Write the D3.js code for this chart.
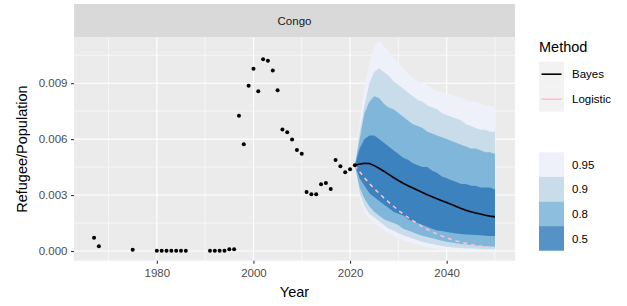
<!DOCTYPE html>
<html>
<head>
<meta charset="utf-8">
<script src="https://cdn.jsdelivr.net/npm/d3@7/dist/d3.min.js"></script>
<style>
  body { margin: 0; background: #ffffff; }
  svg text { font-family: "Liberation Sans", Arial, Helvetica, sans-serif; }
</style>
</head>
<body>
<div id="canvas"></div>
<script>
'use strict';

// Observed refugee share for Congo.
const observedYears = [
  1967, 1968, 1975, 1980, 1981, 1982, 1983, 1984, 1985, 1986,
  1991, 1992, 1993, 1994, 1995, 1996, 1997, 1998, 1999, 2000,
  2001, 2002, 2003, 2004, 2005, 2006, 2007, 2008, 2009, 2010,
  2011, 2012, 2013, 2014, 2015, 2016, 2017, 2018, 2019, 2020, 2021,
];
const observedShares = [
  0.00071, 0.00025, 0.00007, 0.00001, 0.00001, 0.00001, 0.00001, 0.00001, 0.00001, 0.00001,
  0.00001, 0.00001, 0.00001, 0.00002, 0.00009, 0.00010, 0.00725, 0.00573, 0.00886, 0.00977,
  0.00857, 0.01029, 0.01020, 0.00968, 0.00862, 0.00651, 0.00637, 0.00598, 0.00542, 0.00522,
  0.00316, 0.00305, 0.00305, 0.00358, 0.00365, 0.00333, 0.00488, 0.00454, 0.00422, 0.00438, 0.00460,
];

// Forecast horizon.
const forecastYears = [
  2021, 2022, 2023, 2024, 2025, 2026, 2027, 2028, 2029, 2030,
  2031, 2032, 2033, 2034, 2035, 2036, 2037, 2038, 2039, 2040,
  2041, 2042, 2043, 2044, 2045, 2046, 2047, 2048, 2049, 2050,
];
const bayesMedian = [
  0.00460, 0.00467, 0.00470, 0.00469, 0.00458, 0.00444, 0.00428, 0.00411, 0.00394, 0.00378,
  0.00363, 0.00350, 0.00338, 0.00326, 0.00314, 0.00302, 0.00291, 0.00280, 0.00269, 0.00260,
  0.00250, 0.00239, 0.00228, 0.00219, 0.00211, 0.00204, 0.00198, 0.00192, 0.00187, 0.00183,
];
const logisticFit = [
  0.00460, 0.00425, 0.00392, 0.00362, 0.00335, 0.00310, 0.00285, 0.00262, 0.00240, 0.00218,
  0.00198, 0.00180, 0.00163, 0.00146, 0.00130, 0.00116, 0.00103, 0.00091, 0.00080, 0.00070,
  0.00062, 0.00054, 0.00047, 0.00041, 0.00035, 0.00030, 0.00026, 0.00022, 0.00019, 0.00016,
];

// Credible interval bounds.
const upper95 = [
  0.0046, 0.0070, 0.0088, 0.0101, 0.0110, 0.0113, 0.0110, 0.0107, 0.0104, 0.0101,
  0.0098, 0.0095, 0.0093, 0.0091, 0.0090, 0.0089, 0.0087, 0.0086, 0.0085, 0.0084,
  0.0084, 0.0083, 0.0082, 0.0081, 0.0080, 0.0080, 0.0079, 0.0078, 0.0078, 0.0077,
];
const lower95 = [
  0.0046, 0.0028, 0.0021, 0.0017, 0.0015, 0.0013, 0.0011, 0.00095, 0.00080, 0.00068,
  0.00058, 0.00048, 0.00040, 0.00033, 0.00026, 0.00020, 0.00016, 0.00012, 0.00010, 0.00008,
  0.00006, 0.00005, 0.00005, 0.00004, 0.00004, 0.00003, 0.00003, 0.00003, 0.00003, 0.00003,
];
const upper90 = [
  0.0046, 0.0064, 0.0078, 0.0090, 0.0096, 0.0098, 0.0096, 0.0094, 0.0091, 0.0089,
  0.0087, 0.0085, 0.0083, 0.0081, 0.0080, 0.0078, 0.0077, 0.0076, 0.0074, 0.0073,
  0.0072, 0.0071, 0.0070, 0.0068, 0.0067, 0.0066, 0.0065, 0.0065, 0.0064, 0.0064,
];
const lower90 = [
  0.0046, 0.0031, 0.0024, 0.0020, 0.0018, 0.0016, 0.0014, 0.0012, 0.0011, 0.00095,
  0.00085, 0.00075, 0.00066, 0.00058, 0.00050, 0.00043, 0.00037, 0.00032, 0.00027, 0.00023,
  0.00020, 0.00018, 0.00016, 0.00014, 0.00013, 0.00012, 0.00011, 0.00010, 0.00010, 0.00009,
];
const upper80 = [
  0.0046, 0.0060, 0.0074, 0.0080, 0.0083, 0.0082, 0.0079, 0.0077, 0.0076, 0.0074,
  0.0072, 0.0070, 0.0068, 0.0067, 0.0066, 0.0064, 0.0063, 0.0062, 0.0061, 0.0060,
  0.0059, 0.0058, 0.0057, 0.0056, 0.0055, 0.0055, 0.0054, 0.0053, 0.0053, 0.0052,
];
const lower80 = [
  0.0046, 0.0034, 0.0028, 0.0024, 0.0021, 0.0019, 0.0017, 0.0016, 0.0015, 0.0014,
  0.0012, 0.0011, 0.00100, 0.00090, 0.00082, 0.00075, 0.00068, 0.00062, 0.00055, 0.00050,
  0.00046, 0.00042, 0.00038, 0.00035, 0.00032, 0.00029, 0.00027, 0.00025, 0.00024, 0.00023,
];
const upper50 = [
  0.0046, 0.0055, 0.0060, 0.0062, 0.0062, 0.0060, 0.0058, 0.0056, 0.0054, 0.0052,
  0.0050, 0.0049, 0.0047, 0.0046, 0.0045, 0.0045, 0.0043, 0.0042, 0.0040, 0.0039,
  0.0038, 0.0037, 0.0036, 0.0036, 0.0035, 0.0035, 0.0034, 0.0034, 0.0034, 0.0033,
];
const lower50 = [
  0.0046, 0.0039, 0.0035, 0.0031, 0.0029, 0.0027, 0.0025, 0.0023, 0.0021, 0.0020,
  0.0019, 0.0017, 0.0016, 0.0015, 0.0014, 0.0013, 0.0012, 0.0011, 0.00107, 0.00102,
  0.00098, 0.00094, 0.00091, 0.00089, 0.00087, 0.00086, 0.00084, 0.00082, 0.00081, 0.00080,
];

const bandLevels = ['0.95', '0.9', '0.8', '0.5'];
const methodLabels = ['Bayes', 'Logistic'];
const xTickValues = [1980, 2000, 2020, 2040];
const xMinorValues = [1970, 1990, 2010, 2030, 2050];
const yTickValues = [0, 0.003, 0.006, 0.009];
const yMinorValues = [0.0015, 0.0045, 0.0075, 0.0105];
const facetLabel = 'Congo';

const width = 627;
const height = 306;
const panel = {left: 74, right: 515, top: 37.5, bottom: 260.7};

const bandFill = {
  '0.95': '#eef1fa', '0.9': '#c9dcea', '0.8': '#80b6da', '0.5': '#3b82bf',
};
const bandKeyFill = {
  '0.95': '#eef1fa', '0.9': '#c9dcea', '0.8': '#8dbedd', '0.5': '#5593c6',
};

const svg = d3.select('#canvas').append('svg')
    .attr('width', width)
    .attr('height', height);

// ggplot style 5% expansion on x; y.
const xSpan = 2050 - 1967;
const x = d3.scaleLinear()
    .domain([1967 - 0.05 * xSpan, 2050 + 0.05 * xSpan])
    .range([panel.left, panel.right]);
const y = d3.scaleLinear()
    .domain([-0.00052, 0.01145])
    .range([panel.bottom, panel.top]);

// Strip and panel background.
svg.append('rect')
    .attr('x', panel.left)
    .attr('y', 4)
    .attr('width', panel.right - panel.left)
    .attr('height', panel.top - 4)
    .attr('fill', '#d9d9d9');
svg.append('text')
    .attr('x', (panel.left + panel.right) / 2)
    .attr('y', 24.5)
    .attr('text-anchor', 'middle')
    .attr('font-size', 11.5)
    .attr('fill', '#1a1a1a')
    .text(facetLabel);
svg.append('rect')
    .attr('x', panel.left)
    .attr('y', panel.top)
    .attr('width', panel.right - panel.left)
    .attr('height', panel.bottom - panel.top)
    .attr('fill', '#ebebeb');

// Grid lines.
const grid = svg.append('g').attr('stroke', '#ffffff');
grid.selectAll('.x-minor').data(xMinorValues).enter().append('line')
    .attr('x1', d => x(d)).attr('x2', d => x(d))
    .attr('y1', panel.top).attr('y2', panel.bottom)
    .attr('stroke-width', 0.55);
grid.selectAll('.y-minor').data(yMinorValues).enter().append('line')
    .attr('x1', panel.left).attr('x2', panel.right)
    .attr('y1', d => y(d)).attr('y2', d => y(d))
    .attr('stroke-width', 0.55);
grid.selectAll('.x-major').data(xTickValues).enter().append('line')
    .attr('x1', d => x(d)).attr('x2', d => x(d))
    .attr('y1', panel.top).attr('y2', panel.bottom)
    .attr('stroke-width', 1.1);
grid.selectAll('.y-major').data(yTickValues).enter().append('line')
    .attr('x1', panel.left).attr('x2', panel.right)
    .attr('y1', d => y(d)).attr('y2', d => y(d))
    .attr('stroke-width', 1.1);

// Ribbons, widest first.
const bandBounds = {
  '0.95': [lower95, upper95],
  '0.9': [lower90, upper90],
  '0.8': [lower80, upper80],
  '0.5': [lower50, upper50],
};
const area = d3.area()
    .x(d => x(d.year))
    .y0(d => y(d.lo))
    .y1(d => y(d.hi));
bandLevels.forEach(level => {
  const [lo, hi] = bandBounds[level];
  const rows = forecastYears.map((year, i) => ({year, lo: lo[i], hi: hi[i]}));
  svg.append('path')
      .datum(rows)
      .attr('d', area)
      .attr('fill', bandFill[level]);
});

// Forecast lines.
const line = d3.line()
    .x(d => x(d.year))
    .y(d => y(d.value));
svg.append('path')
    .datum(forecastYears.map((year, i) => ({year, value: logisticFit[i]})))
    .attr('d', line)
    .attr('fill', 'none')
    .attr('stroke', '#ffc0cb')
    .attr('stroke-width', 1.6)
    .attr('stroke-dasharray', '4,4');
svg.append('path')
    .datum(forecastYears.map((year, i) => ({year, value: bayesMedian[i]})))
    .attr('d', line)
    .attr('fill', 'none')
    .attr('stroke', '#000000')
    .attr('stroke-width', 1.6);

// Observed points.
svg.append('g')
    .selectAll('circle')
    .data(observedYears.map((year, i) => ({year, value: observedShares[i]})))
    .enter()
    .append('circle')
    .attr('cx', d => x(d.year))
    .attr('cy', d => y(d.value))
    .attr('r', 2)
    .attr('fill', '#000000');

// Axes.
const xAxis = svg.append('g')
    .attr('transform', `translate(0, ${panel.bottom})`)
    .call(d3.axisBottom(x).tickValues(xTickValues).tickFormat(d3.format('d'))
        .tickSize(3).tickPadding(5.5));
const yAxis = svg.append('g')
    .attr('transform', `translate(${panel.left}, 0)`)
    .call(d3.axisLeft(y).tickValues(yTickValues).tickFormat(d3.format('.3f'))
        .tickSize(3).tickPadding(3.5));
[xAxis, yAxis].forEach(axis => {
  axis.select('.domain').remove();
  axis.selectAll('line').attr('stroke', '#333333').attr('stroke-width', 1.1);
  axis.selectAll('text')
      .attr('fill', '#4d4d4d')
      .attr('font-size', 11.5)
      .style('font-family', '"Liberation Sans", Arial, sans-serif');
});

svg.append('text')
    .attr('x', (panel.left + panel.right) / 2)
    .attr('y', 296.5)
    .attr('text-anchor', 'middle')
    .attr('font-size', 14.5)
    .attr('fill', '#000000')
    .text('Year');
svg.append('text')
    .attr('transform', `translate(27, ${(panel.top + panel.bottom) / 2}) rotate(-90)`)
    .attr('text-anchor', 'middle')
    .attr('font-size', 14.5)
    .attr('fill', '#000000')
    .text('Refugee/Population');

// Method legend.
const legend = svg.append('g').attr('transform', 'translate(539, 0)');
legend.append('text')
    .attr('x', 0)
    .attr('y', 52)
    .attr('font-size', 14.5)
    .attr('fill', '#000000')
    .text('Method');
methodLabels.forEach((label, i) => {
  const top = 61.7 + i * 25;
  legend.append('rect')
      .attr('x', 0).attr('y', top)
      .attr('width', 25).attr('height', 25)
      .attr('fill', '#f2f2f2');
  legend.append('line')
      .attr('x1', 2.5).attr('x2', 22.5)
      .attr('y1', top + 12.5).attr('y2', top + 12.5)
      .attr('stroke', i === 0 ? '#000000' : '#ffc0cb')
      .attr('stroke-width', 1.6);
  legend.append('text')
      .attr('x', 33)
      .attr('y', top + 16.5)
      .attr('font-size', 11.5)
      .attr('fill', '#000000')
      .text(label);
});

// Interval legend (no title).
bandLevels.forEach((level, i) => {
  const top = 152.3 + i * 24.6;
  legend.append('rect')
      .attr('x', 0).attr('y', top)
      .attr('width', 25).attr('height', 24.6)
      .attr('fill', bandKeyFill[level]);
  legend.append('text')
      .attr('x', 33)
      .attr('y', top + 16.5)
      .attr('font-size', 11.5)
      .attr('fill', '#000000')
      .text(level);
});
</script>
</body>
</html>
